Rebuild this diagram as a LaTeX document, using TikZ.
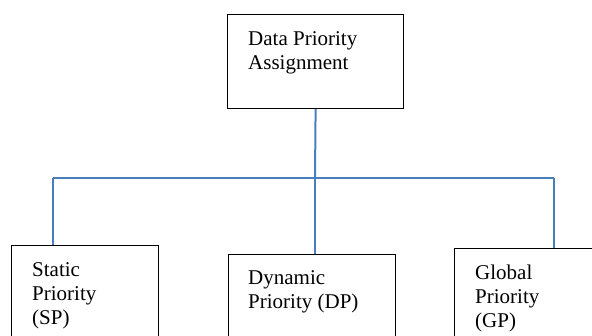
\documentclass[tikz,border=0pt]{standalone}
\usepackage{fontspec}
\setmainfont{Liberation Serif}
\definecolor{linkblue}{RGB}{74,126,187}
\tikzset{
  box/.style={draw=black, line width=1.2pt, anchor=north west, inner sep=0pt, rectangle},
  label/.style={anchor=north west, inner sep=0pt, align=left, font=\fontsize{21}{24}\selectfont},
  link/.style={draw=linkblue, line width=2pt},
}
\begin{document}
\begin{tikzpicture}[x=1pt, y=-1pt]
  \useasboundingbox (0,0) rectangle (592,336);
  \clip (0,0) rectangle (592,336);

  % boxes
  \node[box, minimum width=176pt, minimum height=94pt] (dpa) at (227,14) {};
  \node[box, minimum width=147pt, minimum height=100pt] (sp) at (11,245) {};
  \node[box, minimum width=167pt, minimum height=100pt] (dp) at (228,254) {};
  \node[box, minimum width=200pt, minimum height=100pt] (gp) at (454,248) {};

  % box texts
  \node[label] (dpat) at ([shift={(21,17)}]dpa.north west) {Data Priority\\Assignment};
  \node[label] (spt) at ([shift={(21,17)}]sp.north west) {Static\\Priority\\(SP)};
  \node[label] (dpt) at ([shift={(20,16)}]dp.north west) {Dynamic\\Priority (DP)};
  \node[label] (gpt) at ([shift={(21,17)}]gp.north west) {Global\\Priority\\(GP)};

  % junction points on the bus
  \coordinate (lj) at (53,178);
  \coordinate (mj) at (315,178);
  \coordinate (rj) at (554,178);

  % connectors
  \draw[link] (dpa.south) -- (mj);
  \draw[link] (lj) -- (rj);
  \draw[link] (lj) -- (lj |- sp.north);
  \draw[link] (mj) -- (mj |- dp.north);
  \draw[link] (rj) -- (rj |- gp.north);
\end{tikzpicture}
\end{document}
